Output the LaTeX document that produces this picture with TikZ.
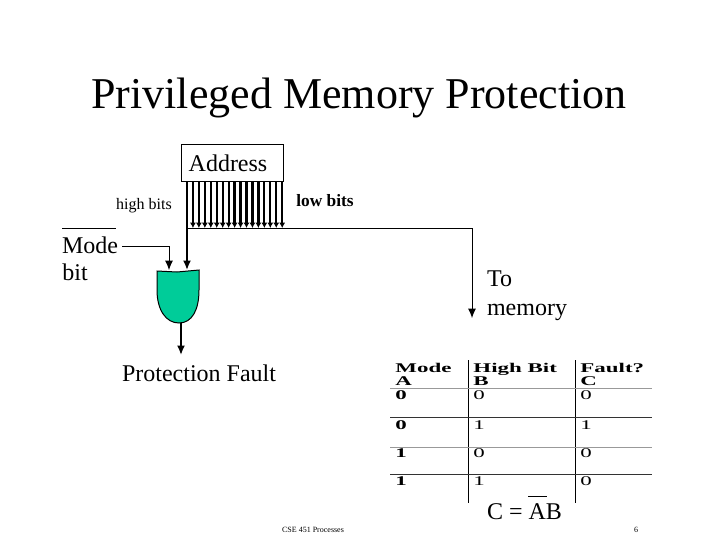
\documentclass[tikz,border=0pt]{standalone}
\usepackage{fontspec}
\setmainfont{Liberation Serif}
\usetikzlibrary{arrows.meta}
\definecolor{gategreen}{RGB}{0,204,153}
\begin{document}
\begin{tikzpicture}
    [
    x=0.75pt,y=-0.75pt,
    txt/.style={inner sep=0pt,anchor=center,font=\fontsize{18}{21}\selectfont},
    small/.style={inner sep=0pt,anchor=center,font=\fontsize{12}{14}\selectfont},
    cell/.style={inner sep=0pt,anchor=base west,xscale=1.72,font=\fontsize{10}{12}\selectfont\bfseries},
    val/.style={inner sep=0pt,anchor=base west,xscale=1.72,font=\fontsize{10}{12}\selectfont},
    wire/.style={line width=0.75pt},
    bus/.style={line width=1.7pt},
    arr/.style={-{Latex[length=7pt,width=6pt]}},
    tip/.style={-{Latex[length=4pt,width=4.5pt]}}
    ]
    \useasboundingbox (0,0) rectangle (720,540);
    \node (title) at (359,98) [inner sep=0pt,font=\fontsize{33}{36}\selectfont] {Privileged Memory Protection};
    \node (box) at (232,162.5) [draw,wire,minimum width=76.5pt,minimum height=27.75pt,inner sep=0pt] {};
    \node (address) at (228,163) [txt] {Address};
    \node (high) at (144,206) [small] {high bits};
    \node (low) at (325,201) [small,font=\fontsize{13}{15}\selectfont\bfseries] {low bits};
    \node (mode) at (90,245) [txt] {Mode};
    \node (bit) at (75,272) [txt] {bit};
    \node (tomem) at (527,296) [txt,align=left,font=\fontsize{18}{22}\selectfont] {To\\memory};
    \node (fault) at (199,373) [txt] {Protection Fault};
    % and gate
    \draw [wire,fill=gategreen] (157,271) -- (177,272) -- (199,270) -- (199,290)
      .. controls (199,310) and (192,323) .. (179,323)
      .. controls (166,323) and (157,310) .. (157,290) -- cycle;
    \coordinate (gatea) at (169,270);
    \coordinate (gateb) at (187,270);
    \coordinate (gateout) at (181,323);
    \coordinate (faultin) at (181,355);
    \coordinate (modeout) at (122,246);
    \coordinate (modeturn) at (169,246);
    \coordinate (highout) at (187,181);
    \coordinate (lowleft) at (188,228);
    \coordinate (lowright) at (472,228);
    \coordinate (memin) at (472,318);
    \coordinate (barl) at (62,228);
    \coordinate (barr) at (116,228);
    % wires
    \draw [wire] (barl) -- (barr);
    \draw [wire,arr] (modeout) -- (modeturn) -- (gatea);
    \draw [bus,arr] (highout) -- (gateb);
    \draw [wire] (lowleft) -- (lowright);
    \draw [wire,arr] (lowright) -- (memin);
    \draw [bus,arr] (gateout) -- (faultin);
    \foreach \i in {1,...,16} {
      \coordinate (bt\i) at (187+\i*5.95,181);
      \coordinate (bb\i) at (187+\i*5.95,228);
      \draw [bus,tip] (bt\i) -- (bb\i);
    }
    % table
    \coordinate (v1t) at (468,360);
    \coordinate (v1b) at (468,503);
    \coordinate (v2t) at (575,360);
    \coordinate (v2b) at (575,503);
    \draw [wire] (v1t) -- (v1b);
    \draw [wire] (v2t) -- (v2b);
    \foreach \y/\c in {388/40,417/80,447/40,474/80} {
      \coordinate (hl\y) at (390,\y);
      \coordinate (hr\y) at (652,\y);
      \draw [wire,black!\c] (hl\y) -- (hr\y);
    }
    \node (mhead) at (395,372) [cell] {Mode};
    \node (hhead) at (473,372) [cell] {High Bit};
    \node (fhead) at (580,372) [cell] {Fault?};
    \node (ahead) at (395,385) [cell] {A};
    \node (bhead) at (473,385) [cell] {B};
    \node (chead) at (580,385) [cell] {C};
    \foreach \n/\y/\a/\b/\c in {r/399/0/0/0,s/429/0/1/1,t/457/1/0/0,u/485/1/1/0} {
      \node (a\n) at (395,\y) [cell] {\a};
      \node (b\n) at (473,\y) [val] {\b};
      \node (c\n) at (580,\y) [val] {\c};
    }
    \node (eqn) at (524.5,512) [txt] {C = AB};
    \coordinate (ebl) at (528,496);
    \coordinate (ebr) at (547,496);
    \draw [wire] (ebl) -- (ebr);
    \node (foot) at (313,530) [inner sep=0pt,font=\fontsize{6}{7}\selectfont] {CSE 451 Processes};
    \node (page) at (636,530) [inner sep=0pt,font=\fontsize{6}{7}\selectfont] {6};
  \end{tikzpicture}
\end{document}
